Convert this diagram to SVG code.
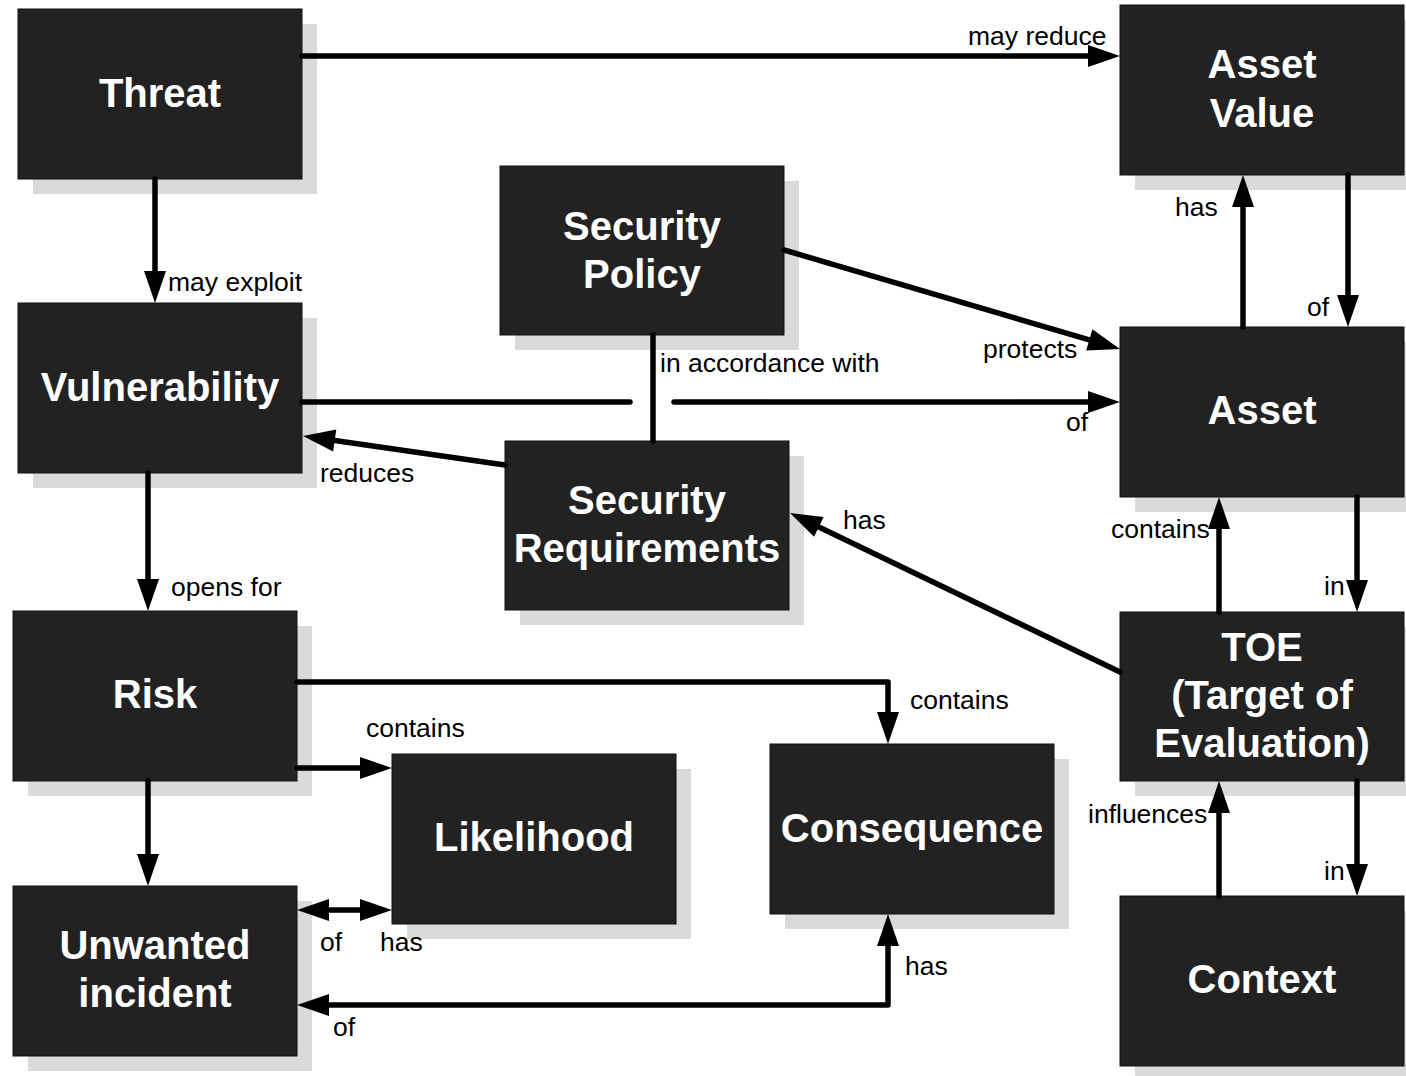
<svg xmlns="http://www.w3.org/2000/svg" width="1406" height="1076" viewBox="0 0 1406 1076">
  <style>
    .shadow { fill: #dadada; }
    .box { fill: #222222; stroke: #111111; stroke-width: 1; }
    .title { font-family: "Liberation Sans", Arial, sans-serif; font-weight: bold; font-size: 40px; fill: #ffffff; text-anchor: middle; }
    .lbl { font-family: "Liberation Sans", Arial, sans-serif; font-size: 26.5px; fill: #000000; }
    .edge { fill: none; stroke: #000000; stroke-width: 5.5; stroke-linecap: round; stroke-linejoin: round; }
    .head { marker-end: url(#arrow); }
  </style>
  <defs>
    <marker id="arrow" markerUnits="userSpaceOnUse" markerWidth="32" markerHeight="22" refX="0" refY="11" orient="auto-start-reverse" overflow="visible">
      <path d="M0,0 L32,11 L0,22 Z" fill="#000000"/>
    </marker>
  </defs>
  <rect width="1406" height="1076" fill="#ffffff"/>

  <g id="threat">
    <rect class="shadow" x="33" y="24" width="284" height="170"/>
    <rect class="box" x="18" y="9" width="284" height="170"/>
    <text class="title" x="160" y="107">Threat</text>
  </g>
  <g id="asset-value">
    <rect class="shadow" x="1135" y="20" width="284" height="170"/>
    <rect class="box" x="1120" y="5" width="284" height="170"/>
    <text class="title" x="1262" y="78">Asset</text>
    <text class="title" x="1262" y="127">Value</text>
  </g>
  <g id="security-policy">
    <rect class="shadow" x="515" y="181" width="284" height="169"/>
    <rect class="box" x="500" y="166" width="284" height="169"/>
    <text class="title" x="642" y="240">Security</text>
    <text class="title" x="642" y="288">Policy</text>
  </g>
  <g id="vulnerability">
    <rect class="shadow" x="33" y="318" width="284" height="170"/>
    <rect class="box" x="18" y="303" width="284" height="170"/>
    <text class="title" x="160" y="401">Vulnerability</text>
  </g>
  <g id="asset">
    <rect class="shadow" x="1135" y="342" width="284" height="170"/>
    <rect class="box" x="1120" y="327" width="284" height="170"/>
    <text class="title" x="1262" y="424">Asset</text>
  </g>
  <g id="security-requirements">
    <rect class="shadow" x="520" y="456" width="284" height="169"/>
    <rect class="box" x="505" y="441" width="284" height="169"/>
    <text class="title" x="647" y="514">Security</text>
    <text class="title" x="647" y="562">Requirements</text>
  </g>
  <g id="risk">
    <rect class="shadow" x="28" y="626" width="284" height="170"/>
    <rect class="box" x="13" y="611" width="284" height="170"/>
    <text class="title" x="155" y="708">Risk</text>
  </g>
  <g id="toe">
    <rect class="shadow" x="1135" y="627" width="284" height="169"/>
    <rect class="box" x="1120" y="612" width="284" height="169"/>
    <text class="title" x="1262" y="661">TOE</text>
    <text class="title" x="1262" y="709">(Target of</text>
    <text class="title" x="1262" y="757">Evaluation)</text>
  </g>
  <g id="likelihood">
    <rect class="shadow" x="407" y="769" width="284" height="170"/>
    <rect class="box" x="392" y="754" width="284" height="170"/>
    <text class="title" x="534" y="851">Likelihood</text>
  </g>
  <g id="consequence">
    <rect class="shadow" x="785" y="759" width="284" height="170"/>
    <rect class="box" x="770" y="744" width="284" height="170"/>
    <text class="title" x="912" y="842">Consequence</text>
  </g>
  <g id="unwanted-incident">
    <rect class="shadow" x="28" y="901" width="284" height="170"/>
    <rect class="box" x="13" y="886" width="284" height="170"/>
    <text class="title" x="155" y="959">Unwanted</text>
    <text class="title" x="155" y="1007">incident</text>
  </g>
  <g id="context">
    <rect class="shadow" x="1135" y="911" width="284" height="170"/>
    <rect class="box" x="1120" y="896" width="284" height="170"/>
    <text class="title" x="1262" y="993">Context</text>
  </g>

  <g id="connectors">
    <path class="edge head" d="M302,56 H1088"/>
    <path class="edge head" d="M155,179 V271"/>
    <path class="edge head" d="M784,250 L1089.3,339.9"/>
    <path class="edge" d="M302,402 H630"/>
    <path class="edge head" d="M674,402 H1088"/>
    <path class="edge" d="M653,335 V441"/>
    <path class="edge head" d="M505,465 L334.7,440.5"/>
    <path class="edge head" d="M1120,672 L818.8,526.9"/>
    <path class="edge head" d="M1243,327 V207"/>
    <path class="edge head" d="M1348,175 V295"/>
    <path class="edge head" d="M1219,612 V529"/>
    <path class="edge head" d="M1357,497 V580"/>
    <path class="edge head" d="M1219,896 V813"/>
    <path class="edge head" d="M1357,781 V864"/>
    <path class="edge head" d="M148,473 V579"/>
    <path class="edge head" d="M297,682 H888 V712"/>
    <path class="edge head" d="M297,768 H360"/>
    <path class="edge head" d="M148,781 V854"/>
    <path class="edge head" d="M329,910 H360" marker-start="url(#arrow)"/>
    <path class="edge head" d="M329,1005 H888 V946" marker-start="url(#arrow)"/>

    <text class="lbl" x="968" y="45">may reduce</text>
    <text class="lbl" x="168" y="291">may exploit</text>
    <text class="lbl" x="1175" y="216">has</text>
    <text class="lbl" x="1307" y="316">of</text>
    <text class="lbl" x="983" y="358">protects</text>
    <text class="lbl" x="660" y="372">in accordance with</text>
    <text class="lbl" x="1066" y="431">of</text>
    <text class="lbl" x="320" y="482">reduces</text>
    <text class="lbl" x="843" y="529">has</text>
    <text class="lbl" x="1111" y="538">contains</text>
    <text class="lbl" x="1324" y="595">in</text>
    <text class="lbl" x="171" y="596">opens for</text>
    <text class="lbl" x="910" y="709">contains</text>
    <text class="lbl" x="366" y="737">contains</text>
    <text class="lbl" x="1088" y="823">influences</text>
    <text class="lbl" x="1324" y="880">in</text>
    <text class="lbl" x="320" y="951">of</text>
    <text class="lbl" x="380" y="951">has</text>
    <text class="lbl" x="905" y="975">has</text>
    <text class="lbl" x="333" y="1036">of</text>
  </g>
</svg>
